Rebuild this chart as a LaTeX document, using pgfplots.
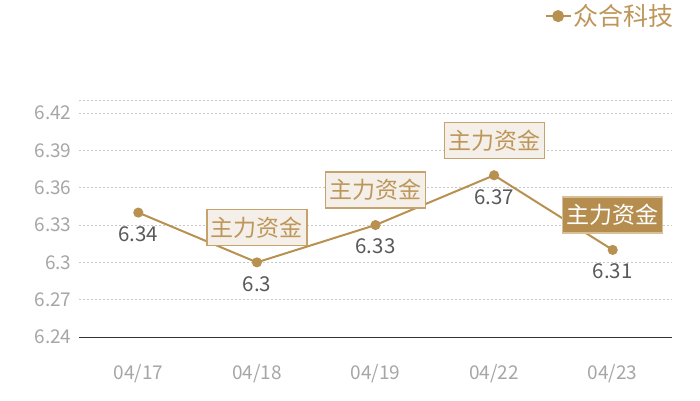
\documentclass[border=0pt]{standalone}
\usepackage{fontspec}
\setmainfont{Noto Sans CJK SC}
\usepackage{pgfplots}
\pgfplotsset{compat=1.18}

\definecolor{gold}{RGB}{184,145,80}
\definecolor{goldtext}{RGB}{190,150,90}
\definecolor{boxfill}{RGB}{244,240,233}
\definecolor{boxborder}{RGB}{198,163,108}
\definecolor{hifill}{RGB}{181,141,79}
\definecolor{hiborder}{RGB}{215,192,152}
\definecolor{tickgray}{RGB}{166,166,166}
\definecolor{labelgray}{RGB}{89,89,89}
\definecolor{gridgray}{RGB}{200,200,200}

\begin{document}
\begin{tikzpicture}[x=1pt,y=1pt]
\path[use as bounding box] (0,0) rectangle (700,400);
\begin{axis}[
  at={(79pt,63pt)}, anchor=south west,
  scale only axis, width=593pt, height=237pt,
  clip=false,
  xmin=-0.5, xmax=4.5,
  ymin=6.24, ymax=6.4305,
  axis x line*=bottom, axis y line*=left,
  y axis line style={draw=none},
  x axis line style={draw=black!80, line width=1pt, -},
  major tick length=0pt,
  xtick={0,1,2,3,4},
  xticklabels={04/17,04/18,04/19,04/22,04/23},
  ytick={6.24,6.27,6.30,6.33,6.36,6.39,6.42},
  yticklabels={6.24,6.27,6.3,6.33,6.36,6.39,6.42},
  extra y ticks={6.4305}, extra y tick labels={},
  extra y tick style={grid=major},
  ymajorgrids,
  grid style={gridgray, line width=0.8pt, dash pattern=on 2pt off 2pt},
  tick label style={font=\fontsize{19}{19}\selectfont, text=tickgray},
  xticklabel style={yshift=-24pt},
  yticklabel style={xshift=-4pt},
  /pgf/number format/assume math mode=true,
  legend style={at={(1.006,1.354)}, anchor=east, draw=none, fill=none,
    font=\fontsize{25}{25}\selectfont, text=goldtext, inner sep=0pt},
  legend image code/.code={
    \draw[gold, line width=1.5pt] (0pt,0pt) -- (25pt,0pt);
    \fill[gold] (12.5pt,0pt) circle (5pt);
  },
]
\addplot[gold, line width=2pt, mark=*, mark size=4pt,
  nodes near coords,
  every node near coord/.style={anchor=center, yshift=-21.5pt,
    font=\fontsize{20.5}{20.5}\selectfont, text=labelgray},
] coordinates {(0,6.34) (1,6.30) (2,6.33) (3,6.37) (4,6.31)};
\addlegendentry{众合科技}

\addplot[draw=none, mark=none, forget plot,
  nodes near coords={主力资金},
  every node near coord/.style={anchor=center, yshift=35pt,
    fill=boxfill, draw=boxborder, line width=1.2pt, text=goldtext,
    font=\fontsize{23}{23}\selectfont,
    minimum width=100pt, minimum height=36pt, inner sep=0pt},
] coordinates {(1,6.30) (2,6.33) (3,6.37)};

\addplot[draw=none, mark=none, forget plot,
  nodes near coords={主力资金},
  every node near coord/.style={anchor=center, yshift=35pt,
    fill=hifill, draw=hiborder, line width=1.2pt, text=white,
    font=\fontsize{23}{23}\selectfont,
    minimum width=100pt, minimum height=36pt, inner sep=0pt},
] coordinates {(4,6.31)};
\end{axis}
\end{tikzpicture}
\end{document}
